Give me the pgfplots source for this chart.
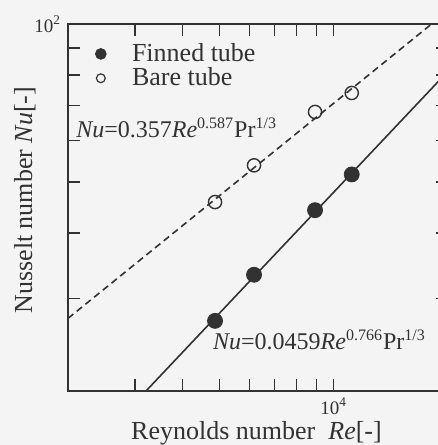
\documentclass[border=0pt]{standalone}
\usepackage{pgfplots}
\pgfplotsset{compat=1.18}
\usepackage{fontspec}
\setmainfont{Liberation Serif}
\definecolor{bg}{RGB}{244,244,244}
\definecolor{ink}{RGB}{50,50,50}
\begin{document}
\begin{tikzpicture}
\useasboundingbox (-34pt,-27pt) rectangle (185pt,195.5pt);
\fill[bg] (-34pt,-27pt) rectangle (185pt,195.5pt);
\clip (-34pt,-27pt) rectangle (185pt,195.5pt);
\begin{axis}[
  at={(0,0)}, anchor=south west,
  scale only axis, width=190pt, height=183.5pt,
  xmode=log, ymode=log,
  xmin=2000, xmax=20000, ymin=20, ymax=100,
  xtick={10000}, xticklabels={10\textsuperscript{4}},
  ytick={100}, yticklabels={10\textsuperscript{2}},
  minor xtick={3000,4000,5000,6000,7000,8000,9000},
  minor ytick={30,40,50,60,70,80,90},
  tick align=inside,
  major tick length=6pt, minor tick length=6pt,
  axis line style={ink, line width=0.8pt},
  every tick/.style={ink, line width=0.65pt},
  tick label style={font=\fontsize{9.5}{11}\selectfont, text=ink},
  xlabel={Reynolds number\ \ \textit{Re}[-]},
  ylabel={Nusselt number \textit{Nu}[-]},
  xlabel style={at={(axis description cs:0.496,-0.132)}, anchor=base, font=\fontsize{13}{15}\selectfont, text=ink},
  ylabel style={at={(axis description cs:-0.0947,0.520)}, anchor=base, font=\fontsize{13}{15}\selectfont, text=ink},
  legend cell align=left,
  legend style={at={(axis description cs:0.0553,0.97)}, anchor=north west, draw=none, fill=none,
    font=\fontsize{13}{15}\selectfont, text=ink, column sep=10.9pt, row sep=-2.35pt},
]
\addlegendimage{only marks, mark=*, mark size=2.7pt, ink}
\addlegendentry{Finned tube}
\addlegendimage{only marks, mark=o, mark size=2.2pt, ink, mark options={line width=0.6pt}}
\addlegendentry{Bare tube}
% correlation lines
\addplot[ink, line width=0.8pt, forget plot] coordinates {(3208,20) (20000,81.3)};
\addplot[ink, line width=0.8pt, dash pattern=on 3.4pt off 2.2pt, forget plot] coordinates {(2000,27.5) (20000,106)};
% measured points
\addplot[only marks, mark=*, mark size=3.75pt, ink, forget plot] coordinates {(4874,27.2) (6174,33.3) (8934,44.2) (11160,51.7)};
\addplot[only marks, mark=o, mark size=3.3pt, ink, mark options={line width=0.7pt}, forget plot] coordinates {(4874,45.8) (6174,53.8) (8934,68.0) (11160,73.9)};
\node[anchor=base west, inner sep=0pt, font=\fontsize{12}{14}\selectfont, text=ink] at (axis description cs:0.021,0.692) {\textit{Nu}=0.357\textit{Re}\textsuperscript{0.587}Pr\textsuperscript{1/3}};
\node[anchor=base west, inner sep=0pt, font=\fontsize{12}{14}\selectfont, text=ink] at (axis description cs:0.381,0.1144) {\textit{Nu}=0.0459\textit{Re}\textsuperscript{0.766}Pr\textsuperscript{1/3}};
\end{axis}
\end{tikzpicture}
\end{document}
